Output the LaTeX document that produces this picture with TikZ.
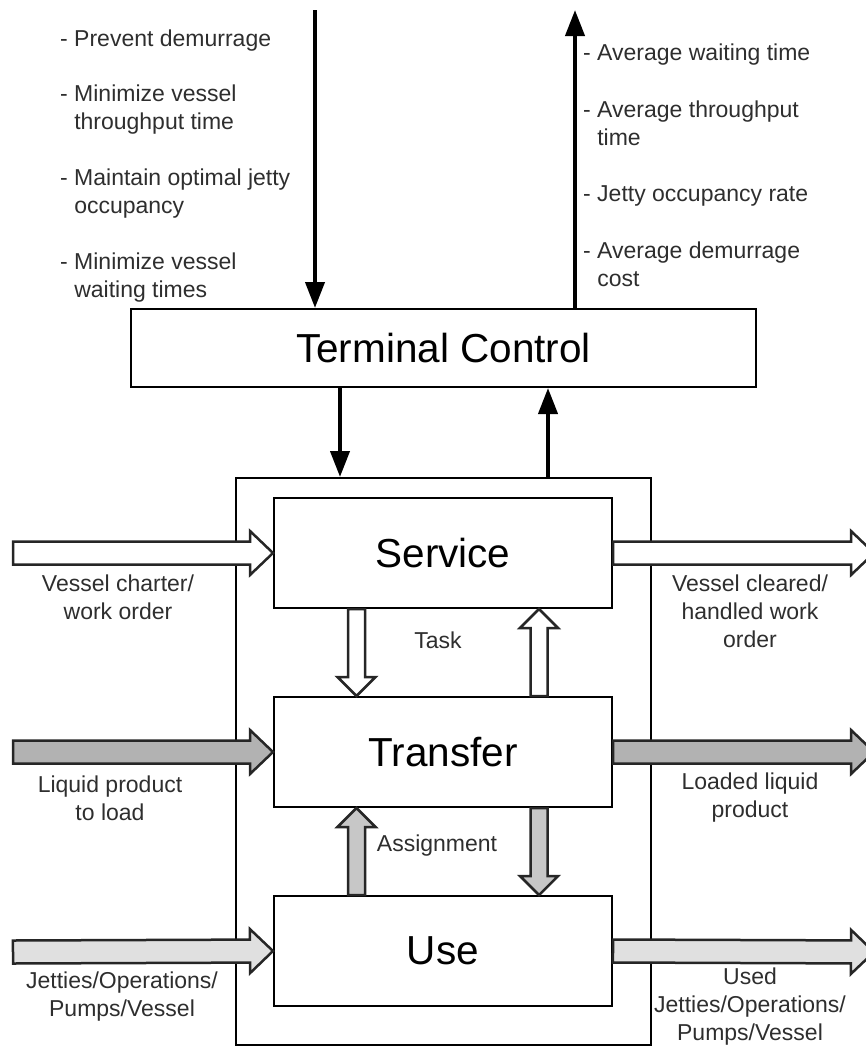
\documentclass[tikz,border=0pt]{standalone}
\usepackage{fontspec}
\setmainfont{Liberation Sans}
\usetikzlibrary{calc,arrows.meta}

% Block arrow from #2 to #3: style #1, shaft half-width #4, head half-width #5, head length #6
\newcommand\blockarrow[6]{%
  \filldraw[flow,#1]
    ($(#2)!#4!90:(#3)$) --
    ($(#3)!#6!(#2)!#4!90:(#3)$) --
    ($(#3)!#6!(#2)!#5!90:(#3)$) --
    (#3) --
    ($(#3)!#6!(#2)!#5!-90:(#3)$) --
    ($(#3)!#6!(#2)!#4!-90:(#3)$) --
    ($(#2)!#4!-90:(#3)$) -- cycle;}

\begin{document}
\begin{tikzpicture}[x=1pt,y=-1pt,
  big/.style={draw, line width=2pt, inner sep=0pt, font=\fontsize{40.5}{46}\selectfont},
  stage/.style={big, minimum width=338pt, minimum height=110pt},
  lbl/.style={font=\fontsize{23}{28}\selectfont, align=center, inner sep=0pt, text=black!82},
  lst/.style={font=\fontsize{23}{27.5}\selectfont, align=left, anchor=base west, inner sep=0pt, text=black!82},
  sig/.style={line width=4pt, -{Triangle[length=26pt,width=19pt]}},
  flow/.style={draw=black!85, line width=2.5pt, line join=miter},
  white flow/.style={fill=white},
  dark flow/.style={fill=black!30},
  mid flow/.style={fill=black!22},
  light flow/.style={fill=black!12},
]
\useasboundingbox (0,0) rectangle (866,1052);

% Control level and system boundary
\node[big, minimum width=625pt, minimum height=78pt] (tc) at (443.5,348) {Terminal Control};
\node[draw, line width=2pt, minimum width=415pt, minimum height=567pt, inner sep=0pt] (sys) at (443.5,761.5) {};

% Stages
\node[stage] (serv)  at (443,553) {Service};
\node[stage] (trans) at (443,752) {Transfer};
\node[stage] (use)   at (443,951) {Use};

% Goals in, performance out
\coordinate (goalsrc) at (315,10);
\coordinate (kpidst)  at (575,10);
\coordinate (ctlx)    at (340,0);
\coordinate (fbx)     at (548,0);
\draw[sig] (goalsrc) -- (goalsrc |- tc.north);
\draw[sig] (tc.north -| kpidst) -- (kpidst);
\draw[sig] (tc.south -| ctlx) -- (sys.north -| ctlx);
\draw[sig] (sys.north -| fbx) -- (tc.south -| fbx);

% (base anchor of a two-line list item sits on its second line)
\node[lst] (g1) at (60,46)  {- Prevent demurrage};
\node[lst] (g2) at (60,129) {- Minimize vessel\\\phantom{- }throughput time};
\node[lst] (g3) at (60,213) {- Maintain optimal jetty\\\phantom{- }occupancy};
\node[lst] (g4) at (60,297) {- Minimize vessel\\\phantom{- }waiting times};

\node[lst] (k1) at (583,60)  {- Average waiting time};
\node[lst] (k2) at (583,145) {- Average throughput\\\phantom{- }time};
\node[lst] (k3) at (583,201) {- Jetty occupancy rate};
\node[lst] (k4) at (583,286) {- Average demurrage\\\phantom{- }cost};

% Horizontal flows
\coordinate (inS)  at (13,553);
\coordinate (inT)  at (13,752);
\coordinate (inU)  at (13,952);
\coordinate (outS) at (874,553);
\coordinate (outT) at (874,752);
\coordinate (outU) at (874,952);
\blockarrow{white flow}{inS}{serv.west}{11.5pt}{22pt}{23pt}
\blockarrow{dark flow}{inT}{trans.west}{11.5pt}{22pt}{23pt}
\blockarrow{light flow}{inU}{use.west}{11.5pt}{22pt}{23pt}
\blockarrow{white flow}{serv.east}{outS}{11.5pt}{22pt}{23pt}
\blockarrow{dark flow}{trans.east}{outT}{11.5pt}{22pt}{23pt}
\blockarrow{light flow}{use.east}{outU}{11.5pt}{22pt}{23pt}

% Vertical flows between stages
\coordinate (colL) at (356.5,0);
\coordinate (colR) at (539,0);
\coordinate (taskA) at (serv.south -| colL);
\coordinate (taskB) at (trans.north -| colL);
\coordinate (repA)  at (trans.north -| colR);
\coordinate (repB)  at (serv.south -| colR);
\coordinate (asgA)  at (use.north -| colL);
\coordinate (asgB)  at (trans.south -| colL);
\coordinate (reqA)  at (trans.south -| colR);
\coordinate (reqB)  at (use.north -| colR);
\blockarrow{white flow}{taskA}{taskB}{8.5pt}{19pt}{19pt}
\blockarrow{white flow}{repA}{repB}{8.5pt}{19pt}{19pt}
\blockarrow{mid flow}{asgA}{asgB}{8.5pt}{19pt}{19pt}
\blockarrow{mid flow}{reqA}{reqB}{8.5pt}{19pt}{19pt}

% Flow labels
\node[lbl] (lS1) at (118,597) {Vessel charter/\\work order};
\node[lbl] (lS2) at (750,611) {Vessel cleared/\\handled work\\order};
\node[lbl] (lTask) at (438,640) {Task};
\node[lbl] (lT1) at (110,798) {Liquid product\\to load};
\node[lbl] (lT2) at (750,798) {Loaded liquid\\product};
\node[lbl] (lAsg) at (437,846) {Assignment};
\node[lbl] (lU1) at (122,997) {Jetties/Operations/\\Pumps/Vessel};
\node[lbl] (lU2) at (750,1007) {Used\\Jetties/Operations/\\Pumps/Vessel};
\end{tikzpicture}
\end{document}
